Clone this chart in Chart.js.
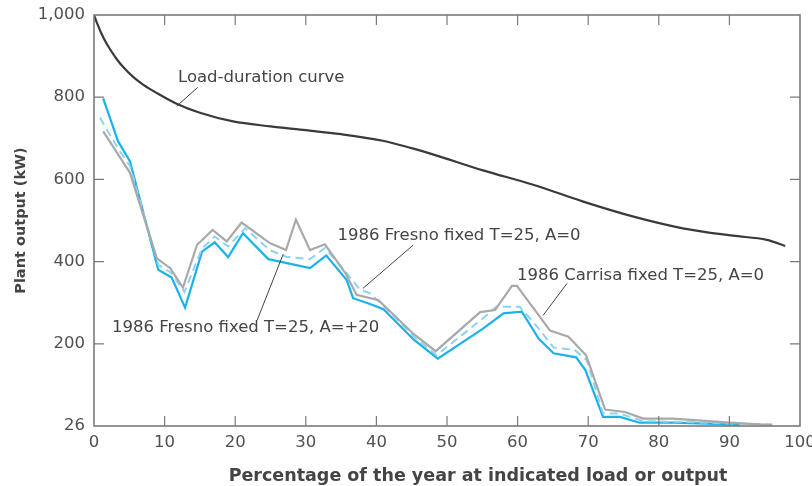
<!DOCTYPE html>
<html>
<head>
<meta charset="utf-8">
<script src="https://cdn.jsdelivr.net/npm/chart.js@4.4.1/dist/chart.umd.min.js"></script>
<style>
  html, body { margin: 0; padding: 0; background: #fff; }
  #wrap { width: 812px; height: 486px; }
</style>
</head>
<body>
<div id="wrap"><canvas id="chart" width="812" height="486"></canvas></div>
<script>
// values
const loadX = [0, 0.5, 1, 1.6, 2.3, 3.2, 4.2, 5.5, 7, 9, 11.7, 15, 19.7, 25, 29.2, 35, 40.9, 45, 48, 55.1, 62.2, 69.3, 76.3, 83.4, 90.5, 95.3, 97.9];
const loadY = [1000, 977, 957, 936, 916, 893, 872, 850, 830, 809, 784, 762, 741, 729, 721, 710, 694, 676, 661, 622, 587, 546, 510, 481, 463, 453, 438];

const fresno20X = [1.3, 3.4, 5.1, 9.1, 11.0, 12.9, 15.3, 17.1, 19.0, 21.1, 24.7, 30.6, 32.9, 35.8, 36.7, 39.1, 41.0, 45.3, 48.7, 55.1, 58.0, 60.6, 63.0, 65.1, 68.3, 69.6, 72.1, 74.5, 77.3, 82, 88, 91.5];
const fresno20Y = [797, 693, 644, 380, 361, 288, 424, 447, 411, 469, 406, 384, 415, 355, 311, 297, 284, 210, 164, 237, 274, 278, 212, 177, 167, 136, 22, 22, 8, 8, 5, 2];

const fresno0X = [0.85, 3.4, 5.1, 9.1, 11.0, 12.8, 15.3, 17.1, 19.0, 21.4, 24.9, 27.2, 30.6, 32.7, 35.8, 37.7, 39.1, 41.0, 45.3, 48.5, 55.1, 57.0, 60.3, 63.0, 65.1, 68.1, 69.8, 72.1, 74.5, 77.8, 85, 90, 96.5];
const fresno0Y = [750, 675, 632, 392, 372, 326, 432, 461, 437, 481, 428, 412, 406, 433, 372, 331, 323, 292, 218, 172, 262, 290, 290, 237, 191, 185, 160, 31, 30, 12, 9, 6, 4];

const carrisaX = [1.3, 5.1, 8.9, 10.8, 12.6, 14.6, 16.8, 18.8, 20.9, 24.9, 27.2, 28.6, 30.6, 32.7, 35.6, 37.2, 40.3, 45.2, 48.4, 54.7, 56.8, 59.2, 59.9, 64.6, 67.2, 69.7, 72.4, 75.2, 77.8, 82, 90, 96];
const carrisaY = [717, 616, 408, 384, 337, 441, 477, 449, 495, 445, 428, 502, 428, 442, 372, 319, 306, 225, 182, 277, 282, 341, 341, 232, 217, 172, 40, 34, 18, 18, 8, 2];

const yTickValues = [0, 200, 400, 600, 800, 1000];
const bottomTickLabel = '26';

// callouts, anchored in data units
const notes = [
  { text: 'Load-duration curve', at: [11.9, 848], from: [14.7, 824], to: [11.7, 778] },
  { text: '1986 Fresno fixed T=25, A=0', at: [34.5, 462], from: [45.2, 440], to: [38.1, 335] },
  { text: '1986 Carrisa fixed T=25, A=0', at: [59.9, 366], from: [67.0, 347], to: [63.6, 269] },
  { text: '1986 Fresno fixed T=25, A=+20', at: [2.55, 238], from: [23.1, 257], to: [26.8, 418] }
];

const fontFamily = '"DejaVu Sans", "Liberation Sans", Arial, sans-serif';
const frameColor = '#7a7a7a';
const textColor = '#444444';

function pairs(xs, ys) {
    return xs.map((x, i) => ({ x: x, y: ys[i] }));
}

const framePlugin = {
    id: 'frame',
    afterDatasetsDraw(chart) {
        const { ctx, chartArea: a } = chart;
        const x = chart.scales.x, y = chart.scales.y;
        ctx.save();
        ctx.strokeStyle = frameColor;
        ctx.lineWidth = 1.6;
        ctx.strokeRect(a.left, a.top, a.right - a.left, a.bottom - a.top);
        ctx.lineWidth = 1.2;
        ctx.beginPath();
        x.ticks.forEach(t => {
            if (t.value <= x.min || t.value >= x.max) return;
            const px = x.getPixelForValue(t.value);
            ctx.moveTo(px, a.bottom); ctx.lineTo(px, a.bottom - 10);
            ctx.moveTo(px, a.top); ctx.lineTo(px, a.top + 10);
        });
        y.ticks.forEach(t => {
            if (t.value <= y.min || t.value >= y.max) return;
            const py = y.getPixelForValue(t.value);
            ctx.moveTo(a.left, py); ctx.lineTo(a.left + 10, py);
            ctx.moveTo(a.right, py); ctx.lineTo(a.right - 10, py);
        });
        ctx.stroke();
        ctx.restore();
    },
    afterDraw(chart) {
        const { ctx } = chart;
        const x = chart.scales.x, y = chart.scales.y;
        ctx.save();
        ctx.strokeStyle = textColor;
        ctx.lineWidth = 1;
        ctx.fillStyle = textColor;
        ctx.font = '16.5px ' + fontFamily;
        ctx.textAlign = 'left';
        ctx.textBaseline = 'middle';
        notes.forEach(n => {
            ctx.beginPath();
            ctx.moveTo(x.getPixelForValue(n.from[0]), y.getPixelForValue(n.from[1]));
            ctx.lineTo(x.getPixelForValue(n.to[0]), y.getPixelForValue(n.to[1]));
            ctx.stroke();
            ctx.fillText(n.text, x.getPixelForValue(n.at[0]), y.getPixelForValue(n.at[1]));
        });
        // x axis title sits a little right of centre in the original
        ctx.font = 'bold 17.5px ' + fontFamily;
        ctx.textAlign = 'center';
        ctx.fillText('Percentage of the year at indicated load or output', 478, 476);
        ctx.restore();
    }
};

const ctx = document.getElementById('chart').getContext('2d');
new Chart(ctx, {
    type: 'line',
    data: {
        datasets: [
            { label: '1986 Carrisa fixed T=25, A=0', data: pairs(carrisaX, carrisaY), borderColor: '#a9a9a9', borderWidth: 2.2, tension: 0 },
            { label: '1986 Fresno fixed T=25, A=0', data: pairs(fresno0X, fresno0Y), borderColor: '#8dd3f1', borderWidth: 2, borderDash: [8, 5], tension: 0 },
            { label: '1986 Fresno fixed T=25, A=+20', data: pairs(fresno20X, fresno20Y), borderColor: '#19b2ea', borderWidth: 2.2, tension: 0 },
            { label: 'Load-duration curve', data: pairs(loadX, loadY), borderColor: '#3a3a3a', borderWidth: 2.2, cubicInterpolationMode: 'monotone' }
        ]
    },
    options: {
        responsive: false,
        animation: false,
        events: [],
        layout: { padding: { left: 0, right: 12, top: 15, bottom: 0 } },
        elements: { point: { radius: 0 }, line: { fill: false } },
        plugins: { legend: { display: false }, tooltip: { enabled: false } },
        scales: {
            x: {
                type: 'linear',
                min: 0,
                max: 100,
                grid: { display: false, drawTicks: false },
                border: { display: false },
                ticks: { stepSize: 10, padding: 7, color: '#505050', font: { family: fontFamily, size: 16.5 } },
                afterFit(s) { s.height = 60; s.paddingLeft = 0; s.paddingRight = 0; }
            },
            y: {
                min: 0,
                max: 1000,
                grid: { display: false, drawTicks: false },
                border: { display: false },
                afterBuildTicks(s) { s.ticks = yTickValues.map(v => ({ value: v })); },
                ticks: {
                    padding: 9,
                    color: '#505050',
                    font: { family: fontFamily, size: 16.5 },
                    callback: v => v === 0 ? bottomTickLabel : v.toLocaleString('en-US')
                },
                title: {
                    display: true,
                    text: 'Plant output (kW)',
                    color: textColor,
                    font: { family: fontFamily, size: 14.5, weight: 'bold' },
                    padding: { top: 13, bottom: 0 }
                },
                afterFit(s) { s.width = 94; s.paddingTop = 0; s.paddingBottom = 0; }
            }
        }
    },
    plugins: [framePlugin]
});
</script>
</body>
</html>
